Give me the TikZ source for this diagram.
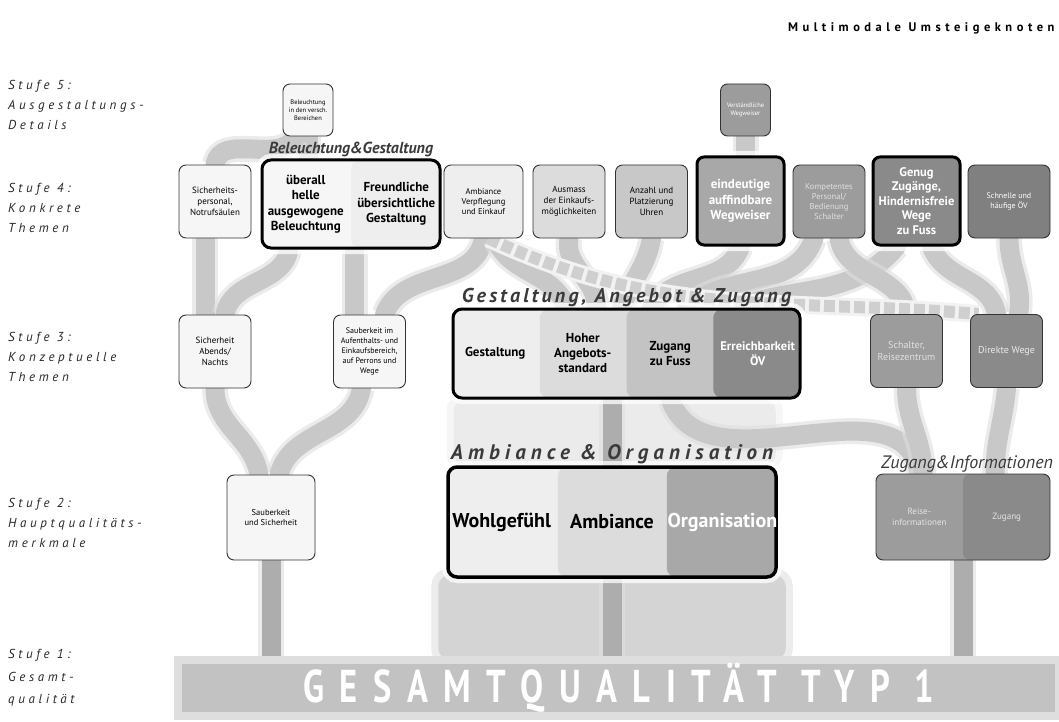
\documentclass[tikz,border=0pt]{standalone}
\usepackage{fontspec}
\usepackage{graphicx}
\setmainfont{PT Sans}
\newfontfamily\stufefont[LetterSpace=28]{PT Sans}
\newfontfamily\titlefont[LetterSpace=36]{PT Sans}
\newfontfamily\headfont[LetterSpace=16]{PT Sans}
\newfontfamily\ambfont[LetterSpace=24]{PT Sans}
\newfontfamily\bandfont[LetterSpace=45]{PT Sans}
\usetikzlibrary{positioning,calc}
\pgfdeclarelayer{background}
\pgfsetlayers{background,main}
\definecolor{g0}{HTML}{F6F6F6}
\definecolor{g1}{HTML}{EEEEEE}
\definecolor{g2}{HTML}{DCDCDC}
\definecolor{g3}{HTML}{C8C8C8}
\definecolor{g4}{HTML}{A8A8A8}
\definecolor{g5}{HTML}{9C9C9C}
\definecolor{g6}{HTML}{8A8A8A}
\definecolor{g7}{HTML}{808080}
\definecolor{pipecol}{HTML}{C8C8C8}
\definecolor{pipeedge}{HTML}{DEDEDE}
\definecolor{stemcol}{HTML}{ADADAD}
\definecolor{ink}{HTML}{3A3A3A}
\tikzset{
  box/.style={draw=black!80, fill=g0, rounded corners=7, line width=.9, minimum width=72, minimum height=73, align=center, inner sep=1, font=\fontsize{8.5}{10.2}\selectfont},
  tiny/.style={box, minimum width=50, minimum height=52, font=\fontsize{6.5}{8}\selectfont},
  glow/.style={preaction={draw=white, line width=12, opacity=.75}},
  strong/.style={box, draw=black, line width=3, minimum width=87, minimum height=88, text=white, font=\bfseries\fontsize{13}{15.5}\selectfont, glow},
  frame/.style={draw=black, rounded corners=9, line width=3, inner sep=0, glow},
  part/.style={align=center, inner sep=0},
  bands/.style={path picture={\foreach \f/\c in {#1}
      \fill[\c] ($(path picture bounding box.south west)!\f!(path picture bounding box.south east)$) rectangle (path picture bounding box.north east);}},
  pipe/.style={draw=pipecol, line width=19, line cap=round, preaction={draw=pipeedge, line width=26, opacity=.6}},
  stem/.style={pipe, draw=stemcol},
  soft/.style={fill=#1, draw=#1, line width=8, rounded corners=8, preaction={draw=#1, opacity=.45, line width=22}},
  squares/.style={draw=black!19, line width=12, dash pattern=on 11 off 4, preaction={draw=black!5, line width=18}},
  stufe/.style={anchor=west, align=left, inner sep=0, text=black!85, font=\stufefont\itshape\fontsize{13}{20}\selectfont},
  head/.style={inner sep=1, text=ink, font=\headfont\bfseries\itshape\fontsize{20}{22}\selectfont}
}
\begin{document}
\begin{tikzpicture}[x=1pt,y=-1pt]
\useasboundingbox (0,0) rectangle (1059,722);
%
\node[anchor=east, font=\titlefont\bfseries\fontsize{12.5}{14}\selectfont] (title) at (1058,28) {Multimodale Umsteigeknoten};
\node[stufe] (s5) at (8,105) {Stufe 5:\\Ausgestaltungs-\\Details};
\node[stufe] (s4) at (8,208) {Stufe 4:\\Konkrete\\Themen};
\node[stufe] (s3) at (8,357) {Stufe 3:\\Konzeptuelle\\Themen};
\node[stufe] (s2) at (8,523) {Stufe 2:\\Hauptqualitäts-\\merkmale};
\node[stufe, font=\stufefont\itshape\fontsize{13}{22.5}\selectfont] (s1) at (8,678) {Stufe 1:\\Gesamt-\\qualität};
%
% Stufe 5
\node[tiny] (bel5) at (308,110) {Beleuchtung\\in den versch.\\Bereichen};
\node[tiny, fill=g5, text=white] (verst) at (745.5,110) {Verständliche\\Wegweiser};
%
% Stufe 4
\node[box, font=\fontsize{9}{11}\selectfont] (personal) at (215,201.5) {Sicherheits-\\personal,\\Notrufsäulen};
\node[frame, fill=g0, minimum width=178, minimum height=88, bands={.5/g1}] (beg) at (351,204) {};
\node[part, font=\bfseries\fontsize{13}{15.5}\selectfont] (helle) at ($(beg.west)!.25!(beg.east)$) {überall\\helle\\ausgewogene\\Beleuchtung};
\node[part, font=\bfseries\fontsize{13}{15.5}\selectfont] (freund) at ($(beg.west)!.75!(beg.east)$) {Freundliche\\übersichtliche\\Gestaltung};
\node[head, font=\bfseries\itshape\fontsize{16}{17}\selectfont, above=0pt of beg] {Beleuchtung\&Gestaltung};
\node[box, fill=g1, minimum width=79] (verpfl) at (483.5,201.5) {Ambiance\\Verpflegung\\und Einkauf};
\node[box, fill=g2, font=\fontsize{9}{11}\selectfont] (ausmass) at (569,201.5) {Ausmass\\der Einkaufs-\\möglichkeiten};
\node[box, fill=g3, font=\fontsize{9}{11}\selectfont] (anzahl) at (651.5,201.5) {Anzahl und\\Platzierung\\Uhren};
\node[strong, fill=g4] (wegw) at (740.5,201) {eindeutige\\auffindbare\\Wegweiser};
\node[box, fill=g5, text=white!88!black] (kompetent) at (829,201.5) {Kompetentes\\Personal/\\Bedienung\\Schalter};
\node[strong, fill=g6, font=\bfseries\fontsize{12.5}{14.5}\selectfont] (genug) at (916.5,201) {Genug\\Zugänge,\\Hindernisfreie\\Wege\\zu Fuss};
\node[box, fill=g7, text=white, minimum width=82, font=\fontsize{8}{10}\selectfont] (schnelle) at (1009,201.5) {Schnelle und\\häufige ÖV};
%
% Stufe 3
\node[box, font=\fontsize{9}{11}\selectfont] (abends) at (215,351.5) {Sicherheit\\Abends/\\Nachts};
\node[box, font=\fontsize{8}{9.8}\selectfont] (sauberim) at (369.5,351.5) {Sauberkeit im\\Aufenthalts- und\\Einkaufsbereich,\\auf Perrons und\\Wege};
\node[frame, fill=g1, minimum width=347, minimum height=89, bands={.25/g2,.5/g3!85!g4,.75/g6}] (gaz) at (626.5,353.5) {};
\node[part, font=\bfseries\fontsize{13}{15}\selectfont] (gest) at ($(gaz.west)!.125!(gaz.east)$) {Gestaltung};
\node[part, font=\bfseries\fontsize{13}{15}\selectfont] (hoher) at ($(gaz.west)!.375!(gaz.east)$) {Hoher\\Angebots-\\standard};
\node[part, font=\bfseries\fontsize{13}{15}\selectfont] (zfuss) at ($(gaz.west)!.625!(gaz.east)$) {Zugang\\zu Fuss};
\node[part, font=\bfseries\fontsize{12.5}{15}\selectfont, text=white] (oev) at ($(gaz.west)!.875!(gaz.east)$) {Erreichbarkeit\\ÖV};
\node[head, above=0pt of gaz] {Gestaltung, Angebot \& Zugang};
\node[box, fill=g5, text=white!88!black, font=\fontsize{10}{12}\selectfont] (schalter) at (906.5,351) {Schalter,\\Reisezentrum};
\node[box, fill=g6, text=white!92!black, font=\fontsize{10}{12}\selectfont] (direkte) at (1006.5,351) {Direkte Wege};
%
% Stufe 2
\node[box, minimum width=88, minimum height=85] (sauber) at (271,517.5) {Sauberkeit\\und Sicherheit};
\node[frame, line width=3.5, fill=g1, minimum width=328, minimum height=110, bands={.335/g2,.667/g4}] (amb) at (612,522) {};
\node[part, font=\bfseries\fontsize{20}{22}\selectfont] (wohl) at ($(amb.west)!.167!(amb.east)$) {Wohlgefühl};
\node[part, font=\bfseries\fontsize{20}{22}\selectfont] (ambi) at ($(amb.west)!.5!(amb.east)$) {Ambiance};
\node[part, font=\bfseries\fontsize{20}{22}\selectfont, text=white] (orga) at ($(amb.west)!.833!(amb.east)$) {Organisation};
\node[head, font=\ambfont\bfseries\itshape\fontsize{21}{23}\selectfont, above=0pt of amb] {Ambiance \& Organisation};
\node[box, fill=g5, minimum width=174, minimum height=86, bands={.5/g6}] (zi) at (963,517) {};
\node[part, text=white!90!black, font=\fontsize{9}{11}\selectfont] (reise) at ($(zi.west)!.25!(zi.east)$) {Reise-\\informationen};
\node[part, text=white!90!black, font=\fontsize{9}{11}\selectfont] (zug) at ($(zi.west)!.75!(zi.east)$) {Zugang};
\node[text=ink, inner sep=1, font=\itshape\fontsize{18}{20}\selectfont, above=0pt of zi, xshift=4pt] {Zugang\&Informationen};
%
% Stufe 1
\node[fill=black!24, draw=black!13, line width=8, minimum width=881, minimum height=56, text=white, font=\bandfont\bfseries\fontsize{46}{50}\selectfont] (gesamt) at (618.5,688) {\scalebox{.75}[1]{GESAMTQUALITÄT TYP 1}};
%
\begin{pgfonlayer}{background}
\path[soft=black!17] ([xshift=-4]amb.south west) rectangle ($(amb.east |- gesamt.north)+(4,0)$);
\path[soft=black!8] ([shift={(6,4)}]gaz.south west) rectangle ([shift={(-6,-4)}]amb.north east);
% Stufe 1 - 2
\draw[stem] (sauber.south) -- (sauber.south |- gesamt.north);
\draw[stem] (amb.south) -- (amb.south |- gesamt.north);
\draw[stem] (zi.south) -- (zi.south |- gesamt.north);
% Stufe 2 - 3
\draw[pipe] ([xshift=-12]sauber.north) to[out=100,in=-90] (abends.south);
\draw[pipe] ([xshift=8]sauber.north) to[out=75,in=-100] ([xshift=-8]sauberim.south);
\draw[stem] (gaz.south -| amb.north) -- (amb.north);
\draw[pipe] (zfuss.south |- gaz.south) to[out=-70,in=100] (reise.north |- zi.north);
\draw[pipe] (schalter.south) to[out=-90,in=90] ([xshift=-40]zi.north);
\draw[pipe] (direkte.south) to[out=-95,in=90] ([xshift=32]zi.north);
% Stufe 3 - 4
\draw[pipe] ([xshift=-10]abends.north) -- ([xshift=-10]personal.south);
\draw[pipe] ([xshift=10]abends.north) to[out=80,in=-100] ([xshift=-62]beg.south);
\draw[pipe] ([xshift=-15]sauberim.north) -- ([xshift=-15]sauberim.north |- beg.south);
\draw[pipe] ([xshift=15]sauberim.north) to[out=70,in=-100] (verpfl.south);
\draw[pipe] ([xshift=12]verpfl.south) to[out=-70,in=110] ([xshift=-60]gaz.north);
\draw[pipe] (ausmass.south) to[out=-100,in=90] ([xshift=-30]gaz.north);
\draw[pipe] (anzahl.south) to[out=-100,in=70] ([xshift=-5]gaz.north);
\draw[pipe] (wegw.south) to[out=-110,in=60] ([xshift=25]gaz.north);
\draw[pipe] ([xshift=-15]kompetent.south) to[out=-110,in=40] ([xshift=60]gaz.north);
\draw[pipe] ([xshift=-20]genug.south) to[out=-130,in=20] ([xshift=110]gaz.north);
\draw[pipe] ([xshift=10]kompetent.south) to[out=-80,in=95] (schalter.north);
\draw[pipe] ([xshift=15]genug.south) to[out=-70,in=100] ([xshift=-10]direkte.north);
\draw[pipe] (schnelle.south) to[out=-90,in=80] ([xshift=12]direkte.north);
\draw[squares] ([xshift=5]verpfl.south) to[out=-25,in=175] ([xshift=-28]direkte.north);
% Stufe 4 - 5
\draw[pipe] (bel5.south) -- (bel5.south |- beg.north);
\draw[pipe] ([xshift=-12]bel5.south) to[out=-120,in=80] (personal.north);
\draw[pipe] (verst.south) -- (verst.south |- wegw.north);
\end{pgfonlayer}
\end{tikzpicture}
\end{document}
